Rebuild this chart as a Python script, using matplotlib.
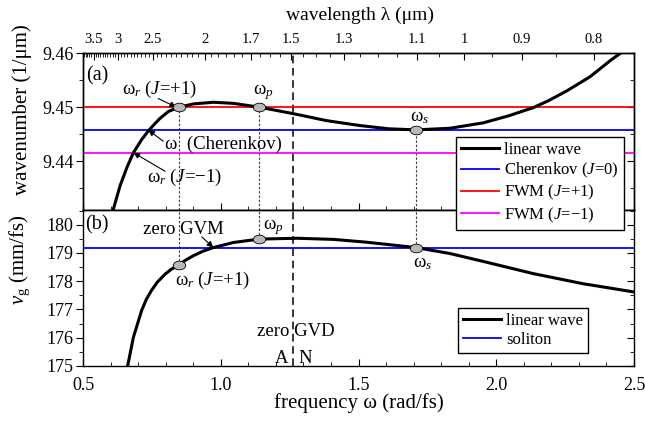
import matplotlib
matplotlib.use('Agg')
import matplotlib.pyplot as plt
from matplotlib.path import Path
from matplotlib.transforms import Affine2D

plt.rcParams['font.family'] = ['Liberation Serif', 'DejaVu Serif']
plt.rcParams['mathtext.fontset'] = 'custom'
plt.rcParams['mathtext.rm'] = 'Liberation Serif'
plt.rcParams['mathtext.it'] = 'Liberation Serif:italic'
plt.rcParams['axes.linewidth'] = 1.0

# panel (a): wavenumber of the linear wave
omega_a = [0.610, 0.634, 0.659, 0.683, 0.713, 0.737, 0.760, 0.779, 0.810, 0.850,
           0.901, 0.973, 1.046, 1.139, 1.263, 1.385, 1.505, 1.609, 1.709, 1.832,
           1.953, 2.045, 2.134, 2.190, 2.256, 2.340, 2.419, 2.455]
k_linear = [9.4311, 9.4354, 9.4388, 9.4416, 9.4440, 9.4456, 9.4469, 9.4479, 9.4492, 9.4500,
            9.4506, 9.4509, 9.4507, 9.4500, 9.4488, 9.4475, 9.4466, 9.4460, 9.4458, 9.4461,
            9.4471, 9.4484, 9.4499, 9.4512, 9.4530, 9.4556, 9.4588, 9.4601]
k_fwm_plus = 9.4500
k_cherenkov = 9.4458
k_fwm_minus = 9.4416

# panel (b): group velocity
omega_b = [0.662, 0.683, 0.713, 0.730, 0.749, 0.770, 0.798, 0.820, 0.848, 0.870,
           0.900, 0.935, 0.973, 1.046, 1.138, 1.276, 1.409, 1.530, 1.709, 1.832,
           1.953, 2.134, 2.316, 2.500]
vg_linear = [175.00, 176.02, 176.97, 177.36, 177.68, 177.97, 178.25, 178.42, 178.58, 178.73,
             178.90, 179.06, 179.19, 179.37, 179.49, 179.52, 179.48, 179.38, 179.19, 178.98,
             178.70, 178.27, 177.91, 177.62]
vg_soliton = 179.19

# special frequencies
omega_r = 0.849
omega_p = 1.139
omega_s = 1.709
omega_zgvd = 1.262
vg_r = 178.58
vg_p = 179.49
vg_s = 179.19

# top axis (wavelength)
lam_major = [3.5, 3, 2.5, 2, 1.7, 1.5, 1.3, 1.1, 1, 0.9, 0.8]
lam_labels = ['3.5', '3', '2.5', '2', '1.7', '1.5', '1.3', '1.1', '1', '0.9', '0.8']
two_pi_c = 1.88365  # um rad/fs

xlim = (0.5, 2.5)
ylim_a = (9.431, 9.46)
ylim_b = (175.0, 180.52)

W, H = 645, 426
fig = plt.figure(figsize=(W / 100, H / 100), dpi=100)
left, right = 83 / W, 634 / W
ax_a = fig.add_axes([left, 1 - 210 / H, right - left, 157 / H])
ax_b = fig.add_axes([left, 1 - 366 / H, right - left, 156 / H])

ell = Path.unit_circle().transformed(Affine2D().scale(1.45, 1.0))
mk = dict(marker=ell, ms=9, mfc='#b8b8b8', mec='k', mew=0.6, ls='none', zorder=6)
dot = dict(colors='0.25', linestyles=(0, (2.2, 1.6)), linewidths=0.8, zorder=2)
arr = dict(arrowstyle='-|>', color='k', lw=0.8, mutation_scale=9, shrinkA=0, shrinkB=0)
fs_ann = 13.5

# ---- panel (a)
ax_a.axhline(k_fwm_plus, color='#ff0000', lw=1.3, label='FWM ($J$=+1)', zorder=3)
ax_a.axhline(k_cherenkov, color='#0000ff', lw=1.3, label='Cherenkov ($J$=0)', zorder=3)
ax_a.axhline(k_fwm_minus, color='#ff00ff', lw=1.3, label='FWM ($J$=\u22121)', zorder=3)
ax_a.plot(omega_a, k_linear, color='k', lw=2.2, label='linear wave', zorder=4)
ax_a.axvline(omega_zgvd, color='k', lw=1.1, ls=(0, (5, 3)), zorder=2)
ax_a.vlines([omega_r, omega_p], ylim_a[0], k_fwm_plus, **dot)
ax_a.vlines(omega_s, ylim_a[0], k_cherenkov, **dot)
ax_a.plot([omega_r, omega_p], [k_fwm_plus, k_fwm_plus], **mk)
ax_a.plot([omega_s], [k_cherenkov], **mk)

ax_a.text(0.512, 9.4558, '(a)', fontsize=14.5, va='center')
ax_a.text(0.640, 9.4533, '\u03c9$_r$ ($J$=+1)', fontsize=fs_ann, va='center')
ax_a.annotate('', xy=(0.838, k_fwm_plus), xytext=(0.773, 9.4516), arrowprops=arr)
ax_a.text(1.117, 9.4527, '\u03c9$_p$', fontsize=fs_ann, va='center')
ax_a.text(0.797, 9.4431, '\u03c9  (Cherenkov)', fontsize=fs_ann, va='center')
ax_a.annotate('', xy=(0.737, k_cherenkov), xytext=(0.791, 9.4437), arrowprops=arr)
ax_a.text(0.731, 9.4370, '\u03c9$_r$ ($J$=\u22121)', fontsize=fs_ann, va='center')
ax_a.annotate('', xy=(0.683, k_fwm_minus), xytext=(0.798, 9.43815), arrowprops=arr)
ax_a.text(1.686, 9.4481, '\u03c9$_s$', fontsize=fs_ann, va='center')

ax_a.set_xlim(xlim)
ax_a.set_ylim(ylim_a)
ax_a.set_yticks([9.44, 9.45, 9.46])
ax_a.set_yticks([9.435, 9.445, 9.455], minor=True)
ax_a.set_xticks([0.5, 1.0, 1.5, 2.0, 2.5])
ax_a.set_xticks([0.6, 0.7, 0.8, 0.9, 1.1, 1.2, 1.3, 1.4, 1.6, 1.7, 1.8, 1.9, 2.1, 2.2, 2.3, 2.4], minor=True)
ax_a.tick_params(axis='x', which='both', direction='in', top=False, labelbottom=False)
ax_a.tick_params(axis='y', which='both', direction='out', labelsize=13, pad=2)
ax_a.tick_params(which='major', length=5)
ax_a.tick_params(which='minor', length=3)
ax_a.tick_params(axis='y', which='both', right=True)
ax_a.yaxis.set_tick_params(which='both', labelright=False)
for t in ax_a.yaxis.get_ticklines(minor=False)[1::2] + ax_a.yaxis.get_ticklines(minor=True)[1::2]:
    t.set_marker(matplotlib.markers.TICKLEFT)

# wavelength axis on top
ax_top = ax_a.twiny()
ax_top.set_xlim(xlim)
ax_top.set_xticks([two_pi_c / l for l in lam_major])
ax_top.set_xticklabels(lam_labels)
lam_minor = [round(0.75 + 0.05 * i, 2) for i in range(61)]
lam_minor = [l for l in lam_minor if l not in lam_major and xlim[0] <= two_pi_c / l <= xlim[1]]
ax_top.set_xticks([two_pi_c / l for l in lam_minor], minor=True)
ax_top.tick_params(axis='x', which='both', direction='in', labelsize=10.5, pad=5)
ax_top.tick_params(which='major', length=5)
ax_top.tick_params(which='minor', length=3)

# ---- panel (b)
ax_b.axhline(vg_soliton, color='#0000ff', lw=1.3, label='soliton', zorder=3)
ax_b.plot(omega_b, vg_linear, color='k', lw=2.2, label='linear wave', zorder=4)
ax_b.axvline(omega_zgvd, color='k', lw=1.1, ls=(0, (5, 3)), zorder=2)
ax_b.vlines([omega_r, omega_p, omega_s], [vg_r, vg_p, vg_s], ylim_b[1], **dot)
ax_b.plot([omega_r, omega_p, omega_s], [vg_r, vg_p, vg_s], **mk)

ax_b.text(0.507, 179.98, '(b)', fontsize=14.5, va='center')
ax_b.text(0.716, 179.83, 'zero GVM', fontsize=fs_ann, va='center')
ax_b.annotate('', xy=(0.973, vg_soliton), xytext=(0.931, 179.57), arrowprops=arr)
ax_b.text(1.153, 179.92, '\u03c9$_p$', fontsize=fs_ann, va='center')
ax_b.text(0.834, 178.03, '\u03c9$_r$ ($J$=+1)', fontsize=fs_ann, va='center')
ax_b.text(1.697, 178.62, '\u03c9$_s$', fontsize=fs_ann, va='center')
ax_b.text(1.133, 176.22, 'zero GVD', fontsize=fs_ann, va='center')
ax_b.text(1.222, 175.28, 'A', fontsize=fs_ann, va='center', ha='center')
ax_b.text(1.306, 175.28, 'N', fontsize=fs_ann, va='center', ha='center')

ax_b.set_xlim(xlim)
ax_b.set_ylim(ylim_b)
ax_b.set_xticks([0.5, 1.0, 1.5, 2.0, 2.5])
ax_b.set_xticklabels(['0.5', '1.0', '1.5', '2.0', '2.5'])
ax_b.set_xticks([0.6, 0.7, 0.8, 0.9, 1.1, 1.2, 1.3, 1.4, 1.6, 1.7, 1.8, 1.9, 2.1, 2.2, 2.3, 2.4], minor=True)
ax_b.set_yticks([175, 176, 177, 178, 179, 180])
ax_b.set_yticks([175.5, 176.5, 177.5, 178.5, 179.5, 180.5], minor=True)
ax_b.tick_params(axis='x', which='both', direction='in', top=False, labelsize=13, pad=8)
ax_b.tick_params(axis='y', which='both', direction='out', right=True, labelsize=13, pad=2)
ax_b.tick_params(which='major', length=5)
ax_b.tick_params(which='minor', length=3)
for t in ax_b.yaxis.get_ticklines(minor=False)[1::2] + ax_b.yaxis.get_ticklines(minor=True)[1::2]:
    t.set_marker(matplotlib.markers.TICKLEFT)

# legends
h, l = ax_a.get_legend_handles_labels()
order = [3, 1, 0, 2]
fig.legend([h[i] for i in order], [l[i] for i in order], loc='upper left',
           bbox_to_anchor=(456 / W, 1 - 137 / H), fontsize=12, frameon=True, fancybox=False,
           edgecolor='k', framealpha=1, handlelength=2.3, handletextpad=0.3,
           labelspacing=0.18, borderpad=0.3, borderaxespad=0)
hb, lb = ax_b.get_legend_handles_labels()
fig.legend([hb[1], hb[0]], [lb[1], lb[0]], loc='upper left',
           bbox_to_anchor=(458 / W, 1 - 308 / H), fontsize=12, frameon=True, fancybox=False,
           edgecolor='k', framealpha=1, handlelength=2.3, handletextpad=0.3,
           labelspacing=0.18, borderpad=0.3, borderaxespad=0)

# axis labels
fig.text(359 / W, 1 - 403 / H, 'frequency \u03c9 (rad/fs)', fontsize=15, ha='center', va='center')
fig.text(360 / W, 1 - 15 / H, 'wavelength \u03bb (\u03bcm)', fontsize=14, ha='center', va='center')
fig.text(22 / W, 1 - 110 / H, 'wavenumber (1/\u03bcm)', fontsize=15, ha='center', va='center', rotation=90)
fig.text(20 / W, 1 - 260 / H, '$v_{\\rm g}$ (mm/fs)', fontsize=15, ha='center', va='center', rotation=90)

fig.savefig('out.png', dpi=100)
